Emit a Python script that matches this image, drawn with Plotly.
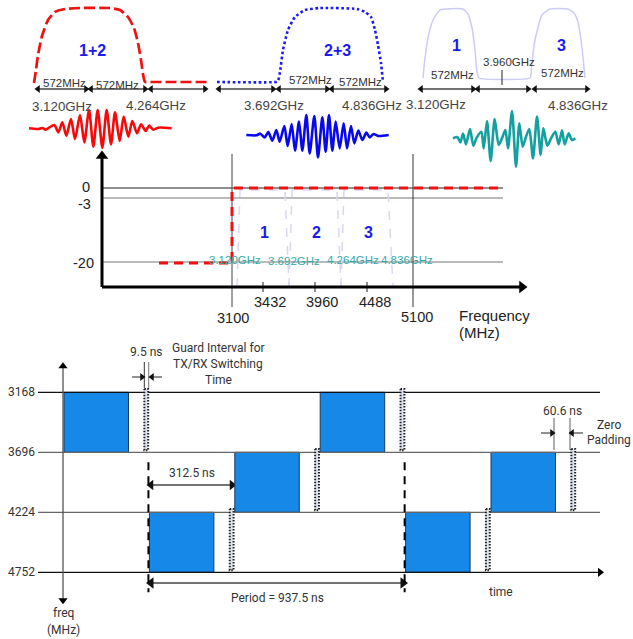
import plotly.graph_objects as go

W, H = 633, 639
FONT = "Liberation Sans"
NARROW = "Roboto"

# ---- upper spectra (schematic, drawing units = picture px) ----
band12_x = [34, 36, 38, 42, 48, 55, 65, 80, 110, 120, 128, 134, 138, 141, 143, 144.5, 145.5, 150, 208]
band12_y = [83, 70, 55, 36, 20, 12, 9, 8, 8, 10, 17, 28, 43, 60, 74, 81, 82, 82, 82]
band23_x = [217, 276, 278, 280, 283, 288, 295, 305, 320, 357, 365, 371, 375, 378, 381, 383]
band23_y = [82, 82, 81, 72, 50, 30, 17, 10, 8, 9, 12, 17, 30, 45, 63, 82]
band13_x = [423, 425, 429, 434, 440, 446, 463, 468, 472, 475, 477, 479, 530, 531, 532, 535, 542, 550, 568, 574, 578, 581, 583, 585]
band13_y = [78, 58, 33, 18, 10, 9, 9, 14, 28, 50, 72, 78, 78, 74, 62, 40, 15, 9, 9, 13, 22, 40, 57, 78]

# ---- time-domain pulses ----
red_wave_x = [12, 40, 52, 62, 72, 88, 100, 112, 124, 138, 150, 165, 178, 192, 205, 218, 232, 245, 258, 270, 284, 296, 310, 322, 336, 348, 362, 372, 385, 400, 440]
red_wave_y = [70, 72, 69, 74, 68, 60, 82, 52, 92, 42, 102, 30, 112, 15, 125, 15, 128, 15, 118, 22, 108, 35, 95, 48, 85, 58, 78, 62, 74, 68, 70]
blue_wave_x = [10, 40, 52, 65, 76, 88, 100, 110, 124, 134, 146, 156, 168, 178, 190, 200, 214, 225, 238, 248, 258, 268, 278, 290, 302, 312, 324, 334, 346, 358, 370, 380, 392, 405, 437]
blue_wave_y = [75, 76, 71, 82, 66, 92, 60, 95, 48, 108, 42, 122, 35, 122, 15, 130, 18, 142, 22, 125, 15, 122, 35, 115, 40, 115, 48, 100, 62, 90, 68, 82, 72, 78, 75]
teal_wave_x = [15, 28, 37, 45, 54, 66, 76, 86, 100, 107, 117, 128, 140, 152, 162, 172, 180, 192, 204, 214, 224, 234, 244, 255, 267, 278, 286, 298, 310, 322, 332, 342, 350, 362, 372, 382]
teal_wave_y = [100, 96, 112, 86, 118, 72, 122, 98, 80, 130, 48, 168, 42, 120, 100, 75, 130, 18, 185, 55, 125, 95, 72, 160, 35, 150, 70, 122, 98, 80, 118, 76, 118, 85, 105, 100]
red_wave_origin = (25, 105)
blue_wave_origin = (243, 110)
teal_wave_origin = (448, 105)

# ---- width dimension arrows above spectra ----
dim_x0 = [36, 89, 149, 217, 277, 330, 419, 476, 533]
dim_x1 = [88, 147, 207, 275, 329, 388, 475, 530, 589]
dim_y = 89

# ---- emission mask panel ----
mask_levels_db = ["0", "-3", "-20"]
mask_level_y = [188, 198, 262]
mask_level_color = ["#222222", "#777777", "#777777"]
mask_x = [159, 232, 232, 498]
mask_y = [263, 263, 188, 188]
sub_x = [[237, 240, 285, 289], [289, 292, 337, 341], [341, 344, 388, 393]]
sub_y = [287, 190, 190, 287]
tick_x = [263, 315, 367]
tick_labels = ["3432", "3960", "4488"]

# ---- time-frequency hopping panel (real units) ----
band_edges_mhz = [3168, 3696, 4224, 4752]
band_labels = ["3168", "3696", "4224", "4752"]
hop_sequence = [0, 2, 1, 0, 2, 1]
slot_ns = 312.5
block_ns = 236
guard_start_ns = 294
guard_ns = 14
period_ns = 937.5

PX_PER_NS = 85.4 / slot_ns
T0_PX = 64
PX_PER_MHZ = 60 / 528
F0_PX = 392.3

# ---- text: (x, y, string, size, colour, bold) ----
top_text = [
    (64, 83, "572MHz", 11.5, "#333333", False), (117, 85, "572MHz", 11.5, "#333333", False),
    (310, 80, "572MHz", 11.5, "#333333", False), (360, 82, "572MHz", 11.5, "#333333", False),
    (452, 75, "572MHz", 11.5, "#333333", False), (562, 73, "572MHz", 11.5, "#333333", False),
    (509, 62, "3.960GHz", 11.5, "#333333", False),
    (62, 106, "3.120GHz", 13.3, "#444444", False), (156, 105, "4.264GHz", 13.3, "#444444", False),
    (274, 105, "3.692GHz", 13.3, "#444444", False), (372, 105, "4.836GHz", 13.3, "#444444", False),
    (436, 104, "3.120GHz", 13.3, "#444444", False), (578, 105, "4.836GHz", 13.3, "#444444", False),
    (92, 50, "1+2", 16, "#1a1aee", True), (337, 50, "2+3", 16, "#1a1aee", True),
    (456, 45, "1", 16, "#1a1aee", True), (561, 45, "3", 16, "#1a1aee", True),
]
mask_text = [
    (264, 232, "1", 16, "#1a1aee", True), (316, 232, "2", 16, "#1a1aee", True), (368, 232, "3", 16, "#1a1aee", True),
    (235, 260, "3.120GHz", 11.5, "#35a8a8", False), (294, 261, "3.692GHz", 11.5, "#35a8a8", False),
    (353, 260, "4.264GHz", 11.5, "#35a8a8", False), (407, 260, "4.836GHz", 11.5, "#35a8a8", False),
    (86, 187, "0", 14.5, "#222222", False), (84, 204, "-3", 14.5, "#222222", False), (83, 263, "-20", 14.5, "#222222", False),
    (233, 318, "3100", 14.5, "#222222", False), (417, 317, "5100", 14.5, "#222222", False),
    (270, 302, "3432", 14.5, "#222222", False), (322, 302, "3960", 14.5, "#222222", False), (375, 302, "4488", 14.5, "#222222", False),
    (494, 315, "Frequency", 15, "#222222", False), (479, 332, "(MHz)", 15, "#222222", False),
]
hop_text = [
    (146, 352, "9.5 ns", 12, "#333333", False),
    (218, 348, "Guard Interval for", 12, "#333333", False),
    (218, 364, "TX/RX Switching", 12, "#333333", False),
    (218, 380, "Time", 12, "#333333", False),
    (192, 473, "312.5 ns", 12, "#333333", False),
    (277, 598, "Period = 937.5 ns", 12, "#333333", False),
    (562, 411, "60.6 ns", 12, "#333333", False),
    (609, 425, "Zero", 12, "#333333", False), (609, 440, "Padding", 12, "#333333", False),
    (501, 592, "time", 12, "#333333", False),
    (63, 613, "freq", 12, "#333333", False), (63, 630, "(MHz)", 12, "#333333", False),
]

fig = go.Figure()


def line(x, y, color, width=1, dash="solid", shape="linear", smoothing=None, **kw):
    ln = dict(color=color, width=width, dash=dash, shape=shape)
    if smoothing is not None:
        ln["smoothing"] = smoothing
    fig.add_trace(go.Scatter(x=x, y=y, mode="lines", line=ln, hoverinfo="skip", showlegend=False, **kw))


def head(x, y, sym, color="#111111", size=8, **kw):
    fig.add_trace(go.Scatter(x=[x], y=[y], mode="markers", hoverinfo="skip", showlegend=False,
                             marker=dict(symbol=sym, size=size, color=color, line=dict(width=0)), **kw))


def double_arrow(x0, x1, y, color="#444444", width=1.3, size=7):
    line([x0, x1], [y, y], color, width)
    head(x0 + 2, y, "triangle-left", size=size)
    head(x1 - 2, y, "triangle-right", size=size)


# upper spectra
line(band13_x, band13_y, "#ccccf6", 1.5, shape="spline", smoothing=0.5)
line(band12_x, band12_y, "#f01010", 2.7, "11px,4px", shape="spline", smoothing=0.5)
line(band23_x, band23_y, "#1a1aee", 2.6, "2.6px,2.6px", shape="spline", smoothing=0.5)
for a, b in zip(dim_x0, dim_x1):
    double_arrow(a, b, dim_y)
line([502, 502], [70, 85], "#222222", 1)


def wave(xs, ys, origin, color):
    line([origin[0] + v / 3 for v in xs], [origin[1] + v / 3 for v in ys], color, 2.6,
         shape="spline", smoothing=0.7)


wave(red_wave_x, red_wave_y, red_wave_origin, "#f80808")
wave(blue_wave_x, blue_wave_y, blue_wave_origin, "#0808f0")
wave(teal_wave_x, teal_wave_y, teal_wave_origin, "#12a0a0")

# emission mask
for y, c in zip(mask_level_y, mask_level_color):
    line([102, 503], [y, y], c, 1.1)
for xs in sub_x:
    line(xs, sub_y, "#d8d8f4", 1.5, "dash")
line([232, 232], [154, 307], "#444444", 1)
line([413, 413], [154, 307], "#333333", 1)
for x in tick_x:
    line([x, x], [282, 292], "#222222", 1)
line(mask_x, mask_y, "#f01010", 3, "9px,6px")
line([102, 102], [154, 287], "#000000", 3)
line([102, 522], [287, 287], "#000000", 3)
head(102, 156, "triangle-up", "#000000", 11)
head(522, 287, "triangle-right", "#000000", 11)

# hopping panel (time in ns / frequency in MHz on their own axes)
t_kw = dict(xaxis="x2", yaxis="y2")
for i, e in enumerate(band_edges_mhz):
    line([-26 / PX_PER_NS * 1, 536 / PX_PER_NS], [e, e], "#111111" if i in (0, 3) else "#666666", 1.3, **t_kw)
head(536 / PX_PER_NS, band_edges_mhz[3], "triangle-right", "#000000", 8, **t_kw)
line([-1 / PX_PER_NS, -1 / PX_PER_NS], [3168 - 26 / PX_PER_MHZ, 4752 + 28 / PX_PER_MHZ], "#555555", 1.3, **t_kw)
head(-1 / PX_PER_NS, 3168 - 26 / PX_PER_MHZ, "triangle-up", "#000000", 8, **t_kw)
head(-1 / PX_PER_NS, 4752 + 28 / PX_PER_MHZ, "triangle-down", "#000000", 8, **t_kw)

starts = [i * slot_ns for i in range(len(hop_sequence))]
fig.add_trace(go.Bar(
    orientation="h", base=starts, x=[block_ns] * len(starts),
    y=[band_edges_mhz[b] + 264 for b in hop_sequence], width=[528] * len(starts),
    marker=dict(color="#1688e8", line=dict(color="#1c3a5a", width=1)),
    hoverinfo="skip", showlegend=False, **t_kw))
for s, b in zip(starts, hop_sequence):
    g0 = s + guard_start_ns
    top = band_edges_mhz[b] - 30
    bot = band_edges_mhz[b + 1] - 18
    fig.add_trace(go.Scatter(x=[g0, g0 + guard_ns, g0 + guard_ns, g0, g0], y=[top, top, bot, bot, top],
                             mode="lines", fill="toself", fillcolor="#dde4f0",
                             line=dict(color="#222222", width=2, dash="1.5px,1.5px"),
                             hoverinfo="skip", showlegend=False, **t_kw))

dash_top, dash_bot = 3168 + 70 / PX_PER_MHZ, 3168 + 200 / PX_PER_MHZ
for t in (309, 309 + period_ns):
    line([t, t], [dash_top, dash_bot], "#000000", 2, "8px,6px", **t_kw)

# dimension markers, drawn in picture units
double_arrow(149, 234, 485, width=1.3, size=9)
double_arrow(149, 405, 583, width=1.6, size=10)
line([144.3, 144.3], [362, 388], "#333333", 1)
line([148.7, 148.7], [362, 388], "#777777", 1)
line([132, 142], [377, 377], "#222222", 1)
head(142, 377, "triangle-right", size=7)
line([152, 162], [377, 377], "#222222", 1)
head(152, 377, "triangle-left", size=7)
line([554, 554], [418, 450], "#777777", 1.2)
line([570, 570], [418, 450], "#777777", 1.2)
line([541, 552], [433, 433], "#222222", 1)
head(552, 433, "triangle-right", size=7)
line([572, 583], [433, 433], "#222222", 1)
head(572, 433, "triangle-left", size=7)

# left labels of the hopping panel, placed through the MHz axis
annotations = []
for lab, e in zip(band_labels, band_edges_mhz):
    annotations.append(dict(x=-43 / PX_PER_NS, y=e, xref="x2", yref="y2", text=lab, showarrow=False,
                            font=dict(family=NARROW, size=12, color="#333333")))
for x, y, s, size, color, bold in top_text + mask_text + hop_text:
    fam = NARROW if (x, y, s, size, color, bold) in hop_text else FONT
    annotations.append(dict(x=x, y=y, xref="x", yref="y", text=f"<b>{s}</b>" if bold else s, showarrow=False,
                            font=dict(family=fam, size=size, color=color)))

hidden = dict(visible=False, showgrid=False, zeroline=False, domain=[0, 1])
fig.update_layout(
    width=W, height=H, autosize=False, margin=dict(l=0, r=0, t=0, b=0),
    paper_bgcolor="white", plot_bgcolor="white", barmode="overlay", showlegend=False,
    font=dict(family=FONT),
    xaxis=dict(range=[0, W], **hidden),
    yaxis=dict(range=[H, 0], **hidden),
    xaxis2=dict(range=[-T0_PX / PX_PER_NS, (W - T0_PX) / PX_PER_NS], overlaying="x", **hidden),
    yaxis2=dict(range=[3168 + (H - F0_PX) / PX_PER_MHZ, 3168 - F0_PX / PX_PER_MHZ], overlaying="y", **hidden),
    annotations=annotations,
)
fig.write_html("out.html", post_script="document.body.style.margin='0';document.body.style.overflow='hidden';",
               config={"displayModeBar": False})
